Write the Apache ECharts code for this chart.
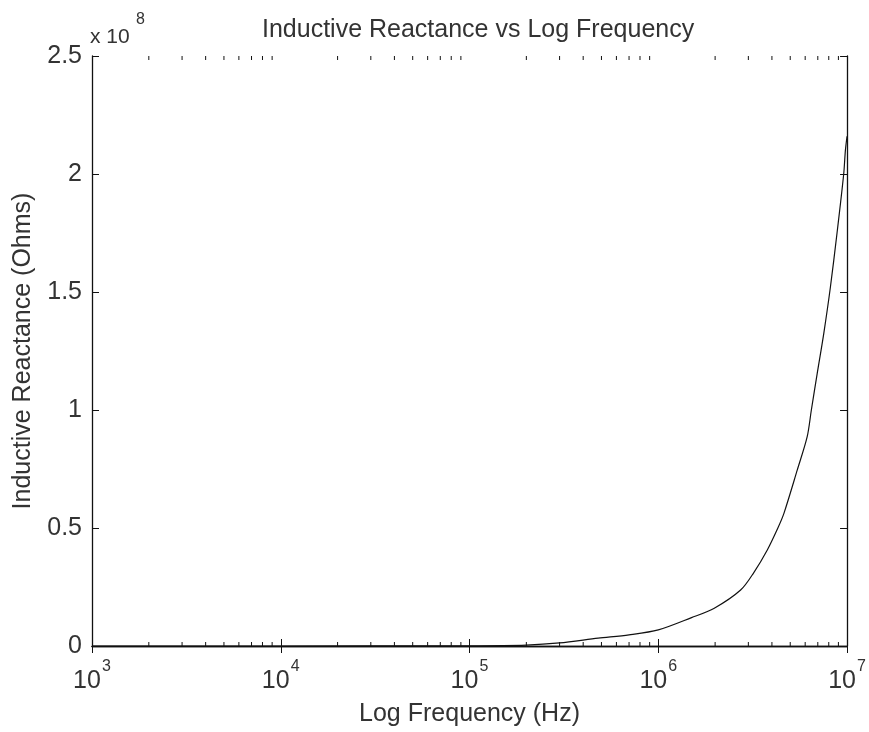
<!DOCTYPE html>
<html>
<head>
<meta charset="utf-8">
<script src="https://cdn.jsdelivr.net/npm/echarts@6/dist/echarts.min.js"></script>
<style>
  html, body { margin: 0; padding: 0; background: #fff; }
  #chart { width: 869px; height: 732px; }
</style>
</head>
<body>
<div id="chart"></div>
<script>
// values
const freqHz = [1e3, 1e4, 1e5, 2e5, 3e5, 4.8e5, 7e5, 1e6, 1.5e6, 1.98e6, 2.73e6, 3.2e6,
    3.78e6, 4.3e6, 4.63e6, 5.45e6, 6.15e6, 6.47e6, 6.95e6, 7.53e6, 8.16e6, 8.85e6, 9.6e6, 9.8e6, 1e7]
const reactanceOhms = [0, 0, 0.1e6, 0.4e6, 1.3e6, 3.3e6, 4.7e6, 6.8e6, 12e6, 16e6, 23.7e6, 31e6,
    40.7e6, 50e6, 56.2e6, 74.6e6, 88.7e6, 100e6, 115.5e6, 132.5e6, 152e6, 175e6, 200e6, 210e6, 216e6]
const minorTickFreqs = [2e3, 3e3, 4e3, 5e3, 6e3, 7e3, 8e3, 9e3,
    2e4, 3e4, 4e4, 5e4, 6e4, 7e4, 8e4, 9e4,
    2e5, 3e5, 4e5, 5e5, 6e5, 7e5, 8e5, 9e5,
    2e6, 3e6, 4e6, 5e6, 6e6, 7e6, 8e6, 9e6]
const yScale = 1e8
const yExponent = 8
const yMax = 2.5e8
const yStep = 0.5e8

const FONT = "'Liberation Sans', Arial, sans-serif"
const TEXT = '#333'
const INK = '#111'

const chart = echarts.init(document.getElementById('chart'))

const tickInside = { show: true, inside: true, length: 7, lineStyle: { color: INK, width: 1 } }
const axisLine = { show: true, lineStyle: { color: INK, width: 1.3 } }

const option = {
    backgroundColor: '#fff',
    animation: false,
    textStyle: { fontFamily: FONT },
    title: {
        text: 'Inductive Reactance vs Log Frequency',
        left: 257,
        top: 13,
        textStyle: { fontFamily: FONT, fontSize: 25, fontWeight: 'normal', color: TEXT }
    },
    grid: { left: 92, top: 56, right: 19, bottom: 86 },
    xAxis: [{
        type: 'log',
        logBase: 10,
        min: 1e3,
        max: 1e7,
        position: 'bottom',
        name: 'Log Frequency (Hz)',
        nameLocation: 'middle',
        nameGap: 56,
        nameTextStyle: { fontFamily: FONT, fontSize: 25, color: TEXT },
        axisLine: axisLine,
        axisTick: tickInside,
        splitLine: { show: false },
        axisLabel: {
            margin: 17,
            // exponent on its own line, pushed right so it sits after "10"
            formatter: v => '{e|' + Math.round(Math.log10(v)) + '}\n{b|10}',
            rich: {
                b: { fontFamily: FONT, fontSize: 25, color: TEXT, lineHeight: 21, padding: [0, 10, 0, 0] },
                e: { fontFamily: FONT, fontSize: 16, color: TEXT, lineHeight: 8, padding: [0, 0, 0, 29] }
            }
        }
    }, {
        type: 'log',
        logBase: 10,
        min: 1e3,
        max: 1e7,
        position: 'top',
        axisLine: axisLine,
        axisTick: tickInside,
        axisLabel: { show: false },
        splitLine: { show: false }
    }],
    yAxis: [{
        type: 'value',
        min: 0,
        max: yMax,
        interval: yStep,
        position: 'left',
        name: 'Inductive Reactance (Ohms)',
        nameLocation: 'middle',
        nameGap: 56,
        nameTextStyle: { fontFamily: FONT, fontSize: 25, color: TEXT },
        axisLine: axisLine,
        axisTick: tickInside,
        splitLine: { show: false },
        axisLabel: {
            margin: 10,
            fontFamily: FONT,
            fontSize: 25,
            color: TEXT,
            formatter: v => String(+(v / yScale).toFixed(1))
        }
    }, {
        type: 'value',
        min: 0,
        max: yMax,
        interval: yStep,
        position: 'right',
        axisLine: axisLine,
        axisTick: tickInside,
        axisLabel: { show: false },
        splitLine: { show: false }
    }],
    series: [{
        type: 'line',
        name: 'reactance',
        xAxisIndex: 0,
        yAxisIndex: 0,
        data: freqHz.map((f, i) => [f, reactanceOhms[i]]),
        showSymbol: false,
        smooth: 0.3,
        lineStyle: { color: INK, width: 1.2 },
        z: 3
    }, {
        // log-spaced minor ticks on bottom and top edges
        type: 'custom',
        xAxisIndex: 0,
        yAxisIndex: 0,
        silent: true,
        data: minorTickFreqs.map(f => [f, 0]),
        renderItem: (params, api) => {
            const bottom = api.coord([api.value(0), 0])
            const top = api.coord([api.value(0), yMax])
            const style = { stroke: INK, lineWidth: 1 }
            return {
                type: 'group',
                children: [
                    { type: 'line', shape: { x1: bottom[0], y1: bottom[1], x2: bottom[0], y2: bottom[1] - 4 }, style },
                    { type: 'line', shape: { x1: top[0], y1: top[1], x2: top[0], y2: top[1] + 4 }, style }
                ]
            }
        },
        z: 4
    }]
}

chart.setOption(option)

// "x 10^8" exponent marker above the top-left corner
const corner = chart.convertToPixel({ xAxisIndex: 0, yAxisIndex: 0 }, [1e3, yMax])
chart.setOption({
    graphic: [{
        type: 'text',
        x: corner[0] - 2,
        y: corner[1] - 43,
        style: {
            text: '{e|' + yExponent + '}\n{a|x 10}',
            align: 'left',
            verticalAlign: 'top',
            rich: {
                a: { fontFamily: FONT, fontSize: 21, fill: TEXT, lineHeight: 20 },
                e: { fontFamily: FONT, fontSize: 16, fill: TEXT, lineHeight: 14, padding: [0, 0, 0, 46] }
            }
        }
    }]
})
</script>
</body>
</html>
